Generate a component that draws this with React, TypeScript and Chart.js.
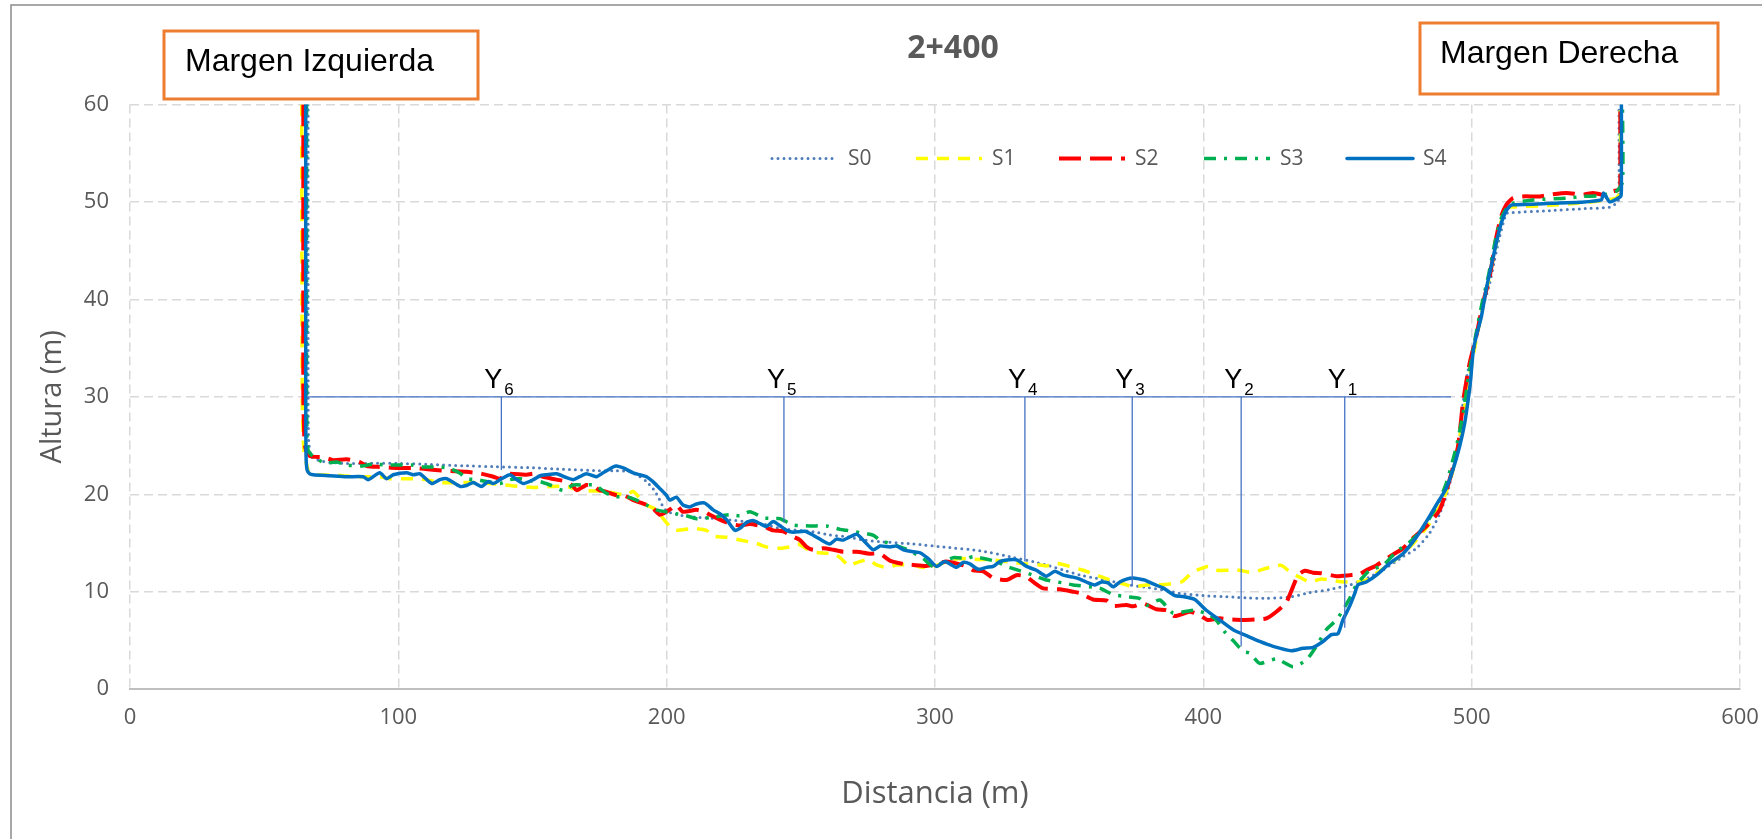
import React, { useEffect, useRef } from "react";
import { Chart, registerables } from "chart.js";

Chart.register(...registerables);

type P = [number, number];

// ---------------- data ----------------
const SERIES_NAMES = ["S0", "S1", "S2", "S3", "S4"];

const S0: P[] = [
  [66.4, 60], [66.4, 30], [66.6, 25.5], [67.6, 23.85], [70.8, 23.44], [74.5, 23.27], [80.7, 23.17], [90.6, 23.17],
  [99.3, 23.17], [111.8, 23.07], [124.2, 22.93], [136.6, 22.83], [149.1, 22.73], [161.5, 22.56], [173.8, 22.42],
  [180.0, 22.42], [186.3, 22.32], [190.0, 21.8], [192.5, 21.3], [194.9, 20.6], [196.8, 19.75], [198.7, 18.7],
  [200.5, 18.2], [204.9, 17.87], [211.1, 17.63], [217.3, 17.53], [223.5, 17.36], [229.7, 17.19], [236.0, 16.95],
  [242.2, 16.5], [254.6, 16.16], [260.8, 15.82], [267.0, 15.65], [273.2, 15.31], [279.5, 15.14], [291.9, 14.9],
  [304.3, 14.56], [316.7, 14.21], [329.1, 13.53], [336.6, 13.09], [341.5, 12.74], [347.8, 12.23], [354.0, 11.72],
  [360.2, 11.38], [366.4, 11.03], [372.6, 10.69], [378.8, 10.45], [385.0, 10.18], [391.2, 9.84], [399.9, 9.6],
  [411.1, 9.45], [417.3, 9.35], [423.5, 9.32], [432.2, 9.45], [439.6, 9.9], [447.1, 10.24], [454.5, 10.69],
  [459.5, 11.2], [466.9, 12.23], [474.4, 13.6], [479.4, 14.45], [484.3, 16.0], [488.1, 18.0], [491.2, 20.4],
  [493.6, 23.2], [495.5, 25.6], [496.6, 29.0], [498.5, 32.5], [501.7, 36.2], [504.0, 39.0], [506.7, 41.6],
  [508.5, 44.0], [510.4, 46.4], [512.9, 48.8], [514.8, 48.9], [529.1, 49.1], [541.5, 49.3], [551.4, 49.46],
  [554.5, 50.0], [554.9, 51], [554.9, 60],
];

const S1: P[] = [
  [64.0, 60], [64.2, 30], [64.8, 24.5], [66.5, 22.3], [67.5, 22.0], [75.8, 21.97], [84.5, 21.8], [93.1, 21.8],
  [96.9, 21.6], [101.9, 21.6], [105.6, 21.6], [110.6, 21.5], [115.5, 21.2], [122.4, 21.2], [130.4, 21.2],
  [136.6, 21.05], [142.8, 20.85], [150.3, 20.7], [157.1, 20.8], [162.7, 20.8], [167.6, 20.4], [177.0, 20.3],
  [185.1, 19.9], [187.5, 20.3], [190.0, 19.6], [192.5, 18.9], [196.2, 18.4], [198.7, 17.5], [201.2, 16.7],
  [203.6, 16.3], [209.9, 16.5], [214.8, 16.3], [217.3, 15.7], [222.3, 15.6], [227.3, 15.3], [233.5, 14.96],
  [237.2, 14.6], [242.1, 14.45], [245.9, 14.6], [249.0, 14.9], [254.0, 14.1], [256.5, 14.0], [262.1, 13.9],
  [264.6, 13.5], [268.3, 12.6], [270.1, 12.9], [275.1, 13.3], [278.2, 12.75], [281.9, 12.5], [285.7, 12.75],
  [291.9, 12.75], [295.0, 12.5], [299.3, 12.6], [306.8, 13.3], [311.8, 13.4], [316.7, 13.3], [320.4, 13.3],
  [329.1, 13.0], [334.1, 12.85], [339.1, 12.75], [341.5, 12.65], [345.3, 12.9], [350.2, 12.6], [355.2, 12.2],
  [358.3, 11.9], [363.3, 11.4], [366.4, 11.1], [371.4, 10.7], [373.8, 10.5], [378.8, 10.7], [383.0, 10.7],
  [387.5, 10.8], [391.8, 11.0], [395.5, 11.9], [397.4, 12.2], [401.7, 12.6], [404.8, 12.2], [409.8, 12.2],
  [413.5, 12.2], [418.5, 11.95], [421.0, 12.2], [424.7, 12.5], [429.1, 12.7], [432.8, 11.9], [435.9, 11.5],
  [439.6, 11.0], [444.0, 11.3], [449.3, 11.1], [452.7, 11.0], [457.0, 11.0], [460.7, 11.2], [464.5, 11.9],
  [468.2, 12.6], [474.4, 13.9], [479.4, 15.3], [484.3, 17.0], [489.3, 19.4], [492.4, 21.8], [494.9, 24.9],
  [497.4, 29.0], [499.5, 32.5], [501.8, 36.0], [504.3, 39.5], [506.8, 42.5], [509.2, 45.8], [511.0, 48.0],
  [513.0, 49.3], [514.2, 49.46], [529.1, 49.64], [541.5, 49.9], [550.2, 50.2], [553.9, 50.4], [555.4, 51],
  [555.4, 60],
];

const S2: P[] = [
  [64.6, 60], [64.6, 30], [65.0, 25.5], [65.6, 24.5], [67.1, 23.9], [72.1, 23.8], [75.8, 23.5], [80.7, 23.6],
  [85.7, 23.3], [88.2, 22.9], [93.1, 22.8], [99.3, 22.7], [105.6, 22.7], [111.8, 22.55], [118.0, 22.4],
  [125.4, 22.3], [130.4, 22.15], [135.4, 21.8], [137.9, 21.6], [140.4, 22.1], [147.8, 22.0], [150.3, 22.1],
  [154.0, 21.8], [159.0, 21.5], [162.7, 21.3], [165.2, 20.8], [166.4, 20.4], [170.1, 20.95], [172.6, 20.85],
  [175.1, 20.4], [177.0, 20.3], [181.3, 19.9], [183.8, 19.9], [186.3, 19.6], [187.5, 19.4], [192.5, 18.9],
  [194.9, 18.55], [197.4, 17.9], [199.9, 18.2], [201.8, 18.55], [203.6, 18.9], [206.1, 18.2], [211.1, 18.4],
  [214.2, 18.2], [216.1, 17.9], [219.8, 17.4], [223.5, 17.0], [227.3, 16.8], [231.0, 16.95], [236.0, 16.7],
  [239.7, 16.3], [243.4, 16.2], [247.1, 15.65], [249.7, 15.3], [252.1, 14.6], [254.6, 14.3], [258.3, 14.45],
  [262.1, 14.3], [265.8, 14.1], [270.8, 14.1], [275.7, 13.9], [279.5, 13.9], [283.2, 13.2], [288.2, 12.85],
  [291.9, 12.75], [296.8, 12.65], [300.6, 12.9], [304.3, 13.1], [308.0, 12.9], [311.8, 12.6], [314.2, 12.2],
  [318.0, 12.1], [321.7, 11.4], [326.7, 11.2], [330.4, 11.7], [334.1, 11.55], [336.6, 11.0], [340.3, 10.35],
  [346.5, 10.25], [351.5, 10.0], [354.0, 9.85], [358.9, 9.2], [363.9, 9.1], [366.4, 8.55], [371.4, 8.65],
  [373.8, 8.5], [377.6, 8.8], [382.5, 8.2], [386.3, 8.1], [389.4, 7.5], [394.9, 7.95], [398.6, 7.6],
  [401.7, 7.1], [406.1, 7.27], [409.8, 7.16], [414.8, 7.1], [419.7, 7.16], [423.5, 7.27], [427.2, 7.95],
  [430.9, 8.9], [433.4, 10.5], [435.3, 11.7], [437.8, 12.16], [440.9, 11.95], [444.0, 11.9], [449.6, 11.6],
  [454.5, 11.7], [458.2, 11.8], [460.7, 12.2], [464.5, 12.7], [469.4, 13.6], [474.4, 14.45], [478.1, 15.5],
  [483.1, 16.7], [488.1, 18.4], [491.8, 21.5], [494.9, 24.9], [496.8, 29.5], [499.2, 33.4], [501.7, 36.2],
  [504.2, 39.6], [506.7, 42.3], [509.2, 46.4], [511.0, 48.5], [512.9, 49.7], [515.4, 50.4], [519.1, 50.56],
  [525.4, 50.56], [529.1, 50.74], [535.3, 50.92], [541.5, 50.74], [545.2, 50.92], [549.0, 50.74], [552.7, 51.1],
  [555.2, 51.3], [555.4, 52], [555.4, 60],
];

const S3: P[] = [
  [65.8, 60], [65.8, 30], [66.0, 25.5], [66.4, 24.5], [68.3, 23.85], [72.7, 23.2], [77.0, 23.3], [80.7, 23.0],
  [86.3, 22.9], [90.7, 23.1], [95.6, 23.0], [100.0, 23.0], [104.9, 23.0], [109.3, 22.8], [113.6, 22.8],
  [118.6, 22.7], [123.0, 22.15], [125.4, 21.6], [129.2, 21.5], [132.9, 21.3], [137.9, 21.1], [141.6, 21.5],
  [145.3, 21.6], [149.1, 21.4], [152.8, 21.3], [156.5, 20.95], [161.5, 20.4], [165.2, 20.95], [168.9, 20.95],
  [173.2, 20.95], [177.6, 20.1], [181.3, 19.75], [185.1, 19.75], [188.8, 19.4], [192.5, 18.9], [196.2, 18.4],
  [203.6, 18.0], [207.3, 17.8], [211.1, 17.5], [216.1, 17.6], [223.5, 17.9], [227.3, 17.8], [231.0, 18.2],
  [236.0, 17.6], [239.7, 17.5], [242.2, 17.5], [247.2, 16.85], [253.4, 16.75], [259.6, 16.75], [264.6, 16.4],
  [267.0, 16.3], [277.0, 15.8], [279.5, 15.3], [289.4, 14.35], [295.6, 13.4], [299.3, 12.6], [306.8, 13.5],
  [311.8, 13.4], [314.2, 13.6], [322.9, 13.1], [326.7, 12.6], [336.6, 11.7], [341.5, 11.2], [347.8, 10.9],
  [351.5, 10.7], [361.4, 10.35], [366.4, 9.7], [371.4, 9.5], [376.3, 9.3], [378.8, 8.6], [383.8, 9.15],
  [388.7, 7.8], [393.7, 8.0], [397.4, 8.1], [402.4, 7.6], [404.8, 7.1], [407.9, 5.9], [411.1, 5.0],
  [414.8, 3.9], [417.3, 3.7], [421.0, 2.65], [427.2, 3.1], [433.4, 2.3], [438.4, 3.0], [442.1, 4.4],
  [445.8, 6.1], [449.6, 7.1], [452.0, 8.1], [454.5, 9.3], [457.0, 10.7], [459.5, 11.5], [462.0, 12.2],
  [466.9, 12.7], [471.9, 14.1], [476.9, 15.1], [481.8, 16.5], [486.8, 18.7], [490.5, 21.1], [494.3, 24.9],
  [496.8, 28.3], [498.8, 32.0], [501.3, 36.0], [503.8, 39.5], [506.3, 42.5], [508.8, 46.0], [511.0, 48.3],
  [514.2, 49.75], [522.9, 50.2], [535.3, 50.37], [541.5, 50.56], [547.7, 50.63], [553.9, 51.1], [556.2, 52],
  [556.2, 60],
];

const S4: P[] = [
  [65.5, 60], [65.5, 30], [65.6, 24], [66.0, 22.5], [67.0, 22.1], [68.3, 22.0], [74.5, 21.9], [80.7, 21.8],
  [86.9, 21.8], [88.8, 21.5], [93.1, 22.2], [95.6, 21.6], [98.1, 22.0], [103.1, 22.2], [105.6, 22.0],
  [108.1, 22.1], [112.4, 21.1], [115.5, 21.5], [118.0, 21.6], [123.0, 20.8], [125.4, 20.9], [127.9, 21.2],
  [131.0, 20.8], [133.5, 21.3], [135.4, 21.1], [138.5, 21.6], [141.6, 22.0], [144.1, 21.5], [146.6, 21.1],
  [150.3, 21.5], [152.8, 21.9], [155.2, 22.0], [159.0, 22.1], [162.7, 21.7], [165.2, 21.5], [167.6, 21.8],
  [170.1, 22.1], [173.8, 21.8], [176.3, 22.2], [180.0, 22.8], [181.3, 22.9], [183.8, 22.7], [187.5, 22.2],
  [190.0, 22.0], [192.5, 21.8], [194.9, 21.3], [197.4, 20.6], [199.9, 19.9], [201.2, 19.4], [203.6, 19.7],
  [206.1, 18.9], [208.6, 18.7], [211.1, 19.0], [214.2, 19.1], [217.3, 18.4], [219.8, 18.0], [222.3, 17.4],
  [225.4, 16.3], [227.3, 16.5], [229.7, 17.1], [232.2, 17.3], [234.7, 17.0], [237.2, 16.7], [239.7, 17.2],
  [242.1, 16.8], [244.7, 16.3], [247.2, 16.1], [251.5, 16.2], [254.6, 15.8], [258.3, 15.2], [260.8, 14.9],
  [263.3, 15.4], [265.8, 15.3], [270.8, 15.9], [273.9, 15.1], [277.0, 14.3], [279.5, 14.7], [283.2, 14.6],
  [285.7, 14.7], [288.2, 14.3], [291.9, 14.1], [294.4, 14.0], [297.5, 13.4], [300.6, 12.6], [303.7, 13.1],
  [308.0, 12.5], [310.5, 13.0], [313.0, 12.85], [316.1, 12.3], [319.2, 12.5], [321.7, 12.6], [324.2, 13.1],
  [329.1, 13.3], [331.0, 13.2], [334.1, 12.6], [337.8, 12.2], [341.5, 11.6], [344.7, 12.1], [347.8, 11.7],
  [351.5, 11.5], [354.0, 11.3], [357.1, 10.9], [359.6, 10.7], [362.1, 11.0], [364.5, 10.9], [366.4, 10.5],
  [368.9, 11.0], [371.4, 11.3], [373.8, 11.4], [376.3, 11.3], [378.2, 11.2], [381.3, 10.8], [385.0, 10.4],
  [389.4, 9.6], [392.5, 9.5], [396.8, 9.2], [401.1, 8.1], [406.1, 7.1], [411.1, 6.1], [416.0, 5.5],
  [421.0, 4.9], [426.0, 4.4], [432.8, 3.95], [437.1, 4.2], [440.9, 4.3], [444.6, 4.9], [447.7, 5.6],
  [450.2, 5.7], [452.0, 7.1], [454.5, 8.5], [456.4, 9.8], [457.6, 10.7], [460.7, 11.0], [464.5, 11.7],
  [469.4, 12.9], [474.4, 13.9], [479.4, 15.6], [483.1, 17.2], [486.8, 18.9], [490.5, 20.6], [493.0, 22.5],
  [495.5, 24.9], [497.4, 27.3], [498.6, 29.5], [499.5, 31.4], [500.5, 34.5], [501.7, 36.2], [503.6, 38.2],
  [505.4, 41.0], [507.3, 43.4], [509.2, 45.8], [511.0, 47.8], [512.7, 49.0], [514.4, 49.6], [515.4, 49.7],
  [530.0, 49.85], [540.2, 49.95], [548.3, 50.2], [549.2, 50.9], [551.4, 50.0], [554.0, 50.3], [555.6, 50.6],
  [555.8, 51.5], [555.8, 60],
];

const WATER_LEVEL = 30;
const WATER_X = [66, 492.3];
const MARKER_SUBS = ["1", "2", "3", "4", "5", "6"];
const MARKER_X = [452.7, 414.1, 373.5, 333.5, 243.7, 138.4];
const MARKER_BOTTOM = [6.3, 4.4, 10.6, 13.1, 17.1, 22.5];

const TITLE = "2+400";
const LEFT_BANK = "Margen Izquierda";
const RIGHT_BANK = "Margen Derecha";
const X_TITLE = "Distancia (m)";
const Y_TITLE = "Altura (m)";
const X_MIN = 0, X_MAX = 600, X_STEP = 100;
const Y_MIN = 0, Y_MAX = 60, Y_STEP = 10;

// ---------------- styles ----------------
const STYLES = [
  { color: "#4F7DBA", width: 3, dash: [0, 6], cap: "round" },
  { color: "#FFFF00", width: 3.5, dash: [12, 9], cap: "butt" },
  { color: "#FF0000", width: 4, dash: [22, 9], cap: "butt" },
  { color: "#00B050", width: 3.5, dash: [12, 8, 3, 8], cap: "butt" },
  { color: "#0070C0", width: 3.5, dash: [], cap: "round" },
];
const LEGEND_TEXT_X = [848, 992, 1135, 1280, 1423];
const GREY = "#595959";
const MARK_COLOR = "#4472C4";

const toPts = (arr: P[]) => arr.map(([x, y]) => ({ x, y }));

const decorPlugin = {
  id: "decor",
  beforeDraw(chart: any) {
    const ctx = chart.ctx;
    ctx.save();
    ctx.fillStyle = "#ffffff";
    ctx.fillRect(0, 0, chart.width, chart.height);
    ctx.strokeStyle = "#8c8c8c";
    ctx.lineWidth = 1.5;
    ctx.beginPath();
    ctx.moveTo(11, chart.height);
    ctx.lineTo(11, 5);
    ctx.lineTo(chart.width, 5);
    ctx.stroke();
    ctx.restore();
  },
  afterDraw(chart: any) {
    const ctx = chart.ctx;
    const xs = chart.scales.x;
    const ys = chart.scales.y;
    ctx.save();
    // title
    ctx.fillStyle = GREY;
    ctx.font = 'bold 32px "Open Sans"';
    ctx.textAlign = "center";
    ctx.textBaseline = "middle";
    ctx.fillText(TITLE, 953, 49);

    // bank boxes
    const box = (x1: number, y1: number, x2: number, y2: number, text: string, tx: number, ty: number) => {
      ctx.fillStyle = "#ffffff";
      ctx.fillRect(x1, y1, x2 - x1, y2 - y1);
      ctx.strokeStyle = "#ED7D31";
      ctx.lineWidth = 3;
      ctx.strokeRect(x1, y1, x2 - x1, y2 - y1);
      ctx.fillStyle = "#000000";
      ctx.font = '32px "Liberation Sans"';
      ctx.textAlign = "left";
      ctx.textBaseline = "alphabetic";
      ctx.fillText(text, tx, ty);
    };
    box(164, 31, 478, 99, LEFT_BANK, 185, 71);
    box(1420, 23, 1718, 94, RIGHT_BANK, 1440, 63);

    // legend
    const ly = 158.5;
    SERIES_NAMES.forEach((name, i) => {
      const st = STYLES[i];
      const tx = LEGEND_TEXT_X[i];
      ctx.beginPath();
      ctx.setLineDash(st.dash);
      ctx.lineCap = st.cap;
      ctx.lineWidth = st.width;
      ctx.strokeStyle = st.color;
      ctx.moveTo(tx - 76, ly);
      ctx.lineTo(tx - 10, ly);
      ctx.stroke();
      ctx.setLineDash([]);
      ctx.fillStyle = GREY;
      ctx.font = '21px "Open Sans"';
      ctx.textAlign = "left";
      ctx.textBaseline = "middle";
      ctx.fillText(name, tx, ly + 1);
    });

    // marker labels
    const py = ys.getPixelForValue(WATER_LEVEL);
    MARKER_X.forEach((mx, i) => {
      const px = xs.getPixelForValue(mx);
      ctx.fillStyle = "#000000";
      ctx.textBaseline = "alphabetic";
      ctx.font = '27px "Liberation Sans"';
      ctx.textAlign = "right";
      ctx.fillText("Y", px + 1, py - 9);
      ctx.font = '17px "Liberation Sans"';
      ctx.textAlign = "left";
      ctx.fillText(MARKER_SUBS[i], px + 3, py - 2);
    });
    ctx.restore();
  },
};

export default function App() {
  const ref = useRef<HTMLCanvasElement | null>(null);

  useEffect(() => {
    if (!ref.current) return;
    const series = [S0, S1, S2, S3, S4];
    const datasets: any[] = [];
    datasets.push({
      label: "water",
      data: toPts(WATER_X.map((x) => [x, WATER_LEVEL] as P)),
      borderColor: MARK_COLOR,
      borderWidth: 1.3,
      pointRadius: 0,
      tension: 0,
      order: 0,
    });
    MARKER_X.forEach((mx, i) => {
      datasets.push({
        label: "Y" + MARKER_SUBS[i],
        data: toPts([[mx, WATER_LEVEL], [mx, MARKER_BOTTOM[i]]]),
        borderColor: MARK_COLOR,
        borderWidth: 1.3,
        pointRadius: 0,
        tension: 0,
        order: 0,
      });
    });
    series.forEach((s, i) => {
      const st = STYLES[i];
      datasets.push({
        label: SERIES_NAMES[i],
        data: toPts(s),
        borderColor: st.color,
        backgroundColor: st.color,
        borderWidth: st.width,
        borderDash: st.dash,
        borderCapStyle: st.cap,
        borderJoinStyle: "round",
        pointRadius: 0,
        tension: 0.2,
        order: 5 - i,
      });
    });

    const tickFont = { family: "Open Sans", size: 22 };
    const chart = new Chart(ref.current, {
      type: "line",
      data: { datasets },
      options: {
        responsive: false,
        animation: false,
        events: [],
        layout: { padding: { left: 0, right: 22, top: 104.4, bottom: 0 } },
        plugins: {
          legend: { display: false },
          tooltip: { enabled: false },
          title: { display: false },
        },
        scales: {
          x: {
            type: "linear",
            min: X_MIN,
            max: X_MAX,
            ticks: { stepSize: X_STEP, padding: 15, color: GREY, font: tickFont },
            grid: { color: "#d9d9d9", lineWidth: 1.5, drawTicks: false },
            border: { display: true, color: "#bfbfbf", width: 2, dash: [9, 5] },
            title: {
              display: true,
              text: X_TITLE,
              color: GREY,
              font: { family: "Open Sans", size: 31 },
              padding: { top: 0, bottom: 26 },
            },
            afterFit: (s: any) => {
              s.height = 149.8;
              s.paddingLeft = 0;
              s.paddingRight = 0;
            },
          },
          y: {
            type: "linear",
            min: Y_MIN,
            max: Y_MAX,
            ticks: { stepSize: Y_STEP, padding: 21, color: GREY, font: tickFont },
            grid: { color: "#d9d9d9", lineWidth: 1.5, drawTicks: false },
            border: { display: false, dash: [9, 5] },
            title: {
              display: true,
              text: Y_TITLE,
              color: GREY,
              font: { family: "Open Sans", size: 29 },
              padding: { top: 35, bottom: 0 },
            },
            afterFit: (s: any) => {
              s.width = 130;
              s.paddingTop = 0;
              s.paddingBottom = 0;
            },
          },
        },
      } as any,
      plugins: [decorPlugin as any],
    });
    return () => chart.destroy();
  }, []);

  return (
    <div style={{ position: "fixed", left: 0, top: 0, width: 1762, height: 839, background: "#fff" }}>
      <canvas ref={ref} width={1762} height={839} style={{ display: "block" }} />
    </div>
  );
}
